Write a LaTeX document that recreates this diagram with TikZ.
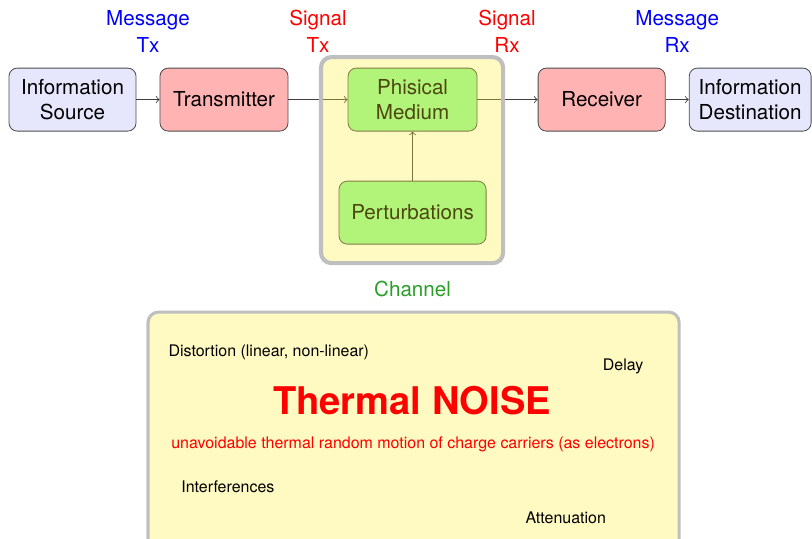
\documentclass[tikz,border=0pt]{standalone}
\usepackage{fontspec}
\setmainfont{TeX Gyre Heros}
\usepackage{tikz}

\definecolor{srcblue}{RGB}{230,230,252}
\definecolor{txred}{RGB}{255,179,179}
\definecolor{medgreen}{RGB}{145,249,152}
\definecolor{chanyellow}{RGB}{255,235,52}
\definecolor{noteyellow}{RGB}{255,249,194}
\definecolor{changreen}{RGB}{40,160,40}

\begin{document}
\begin{tikzpicture}[font=\normalsize,>=to,x=1cm,y=1cm,
    blockbox/.style={draw=black!70,rounded corners=4pt,align=center,
        minimum height=1.075cm,inner sep=2pt},
    tag/.style={align=center,font=\fontsize{10}{13}\selectfont},
    note/.style={font=\fontsize{7.75}{9}\selectfont}]
    \useasboundingbox (0,0) rectangle (13.85,9.18);

    % Cadena de bloques principal.
    \node[blockbox,fill=srcblue,minimum width=2.167cm] (src) at (1.237,7.481)
        {Information\\Source};
    \node[blockbox,fill=txred,minimum width=2.184cm] (tx) at (3.821,7.481)
        {Transmitter};
    \node[blockbox,fill=medgreen,minimum width=2.2cm] (med) at (7.037,7.481)
        {Phisical\\Medium};
    \node[blockbox,fill=txred,minimum width=2.167cm] (rx) at (10.262,7.481)
        {Receiver};
    \node[blockbox,fill=srcblue,minimum width=2.08cm] (dst) at (12.795,7.481)
        {Information\\Destination};
    \node[blockbox,fill=medgreen,minimum width=2.508cm] (pert) at (7.037,5.553)
        {Perturbations};

    \draw[->,black!75] (src) -- (tx);
    \draw[->,black!75] (tx) -- (med);
    \draw[->,black!75] (med) -- (rx);
    \draw[->,black!75] (rx) -- (dst);
    \draw[->,black!75] (pert) -- (med);

    % Caja del canal, semitransparente por encima.
    \draw[line width=2pt,gray!50,fill=chanyellow,fill opacity=0.3,
        rounded corners=5pt] (5.476,4.692) rectangle (8.581,8.206);
    \node[text=changreen] (chan) at (7.037,4.248) {Channel};

    % Etiquetas de mensaje y señal.
    \node[tag,text=blue] (mtx) at (2.525,8.641) {Message\\Tx};
    \node[tag,text=red] (stx) at (5.425,8.641) {Signal\\Tx};
    \node[tag,text=red] (srx) at (8.649,8.641) {Signal\\Rx};
    \node[tag,text=blue] (mrx) at (11.55,8.641) {Message\\Rx};

    % Recuadro de degradaciones.
    \draw[line width=1.5pt,gray!50,fill=noteyellow,rounded corners=5pt]
        (2.525,-0.3) rectangle (11.584,3.856);
    \node[note,anchor=west] (dist) at (2.75,3.175)
        {Distortion (linear, non-linear)};
    \node[note] (delay) at (10.628,2.935) {Delay};
    \node[text=red,font=\fontsize{18.5}{22}\selectfont\bfseries] (noise)
        at (7.029,2.354) {Thermal NOISE};
    \node[note,text=red] (carr) at (7.046,1.605)
        {unavoidable thermal random motion of charge carriers (as electrons)};
    \node[note,anchor=west] (interf) at (2.97,0.875) {Interferences};
    \node[note,anchor=west] (att) at (8.84,0.34) {Attenuation};
\end{tikzpicture}
\end{document}
